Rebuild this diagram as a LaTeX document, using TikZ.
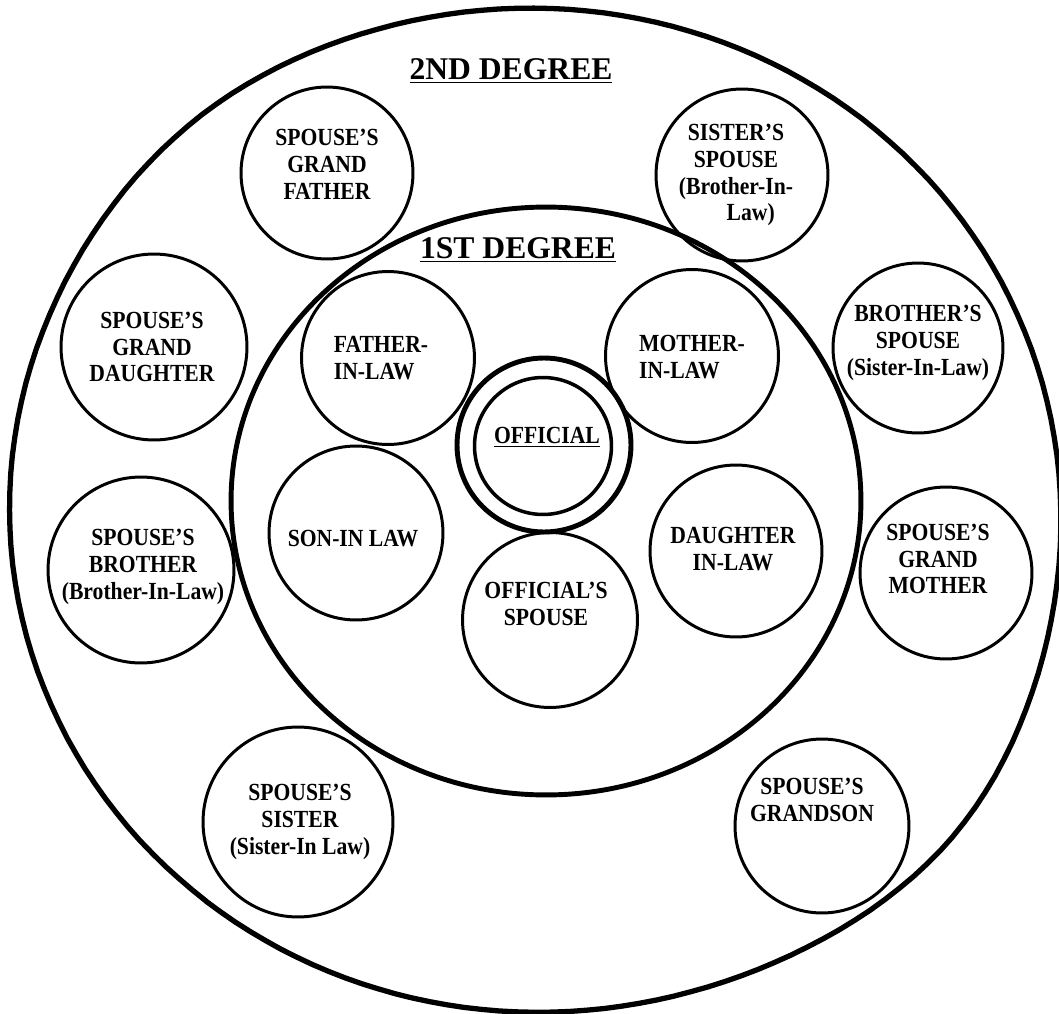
\documentclass[tikz,border=0pt]{standalone}
\usepackage{fontspec}
\setmainfont{Liberation Serif}
\newfontfamily\lblfont{Liberation Serif}[FakeStretch=0.88]
\usetikzlibrary{shapes.geometric}
\begin{document}
\begin{tikzpicture}[x=0.02cm,y=-0.02cm,
  declare function={
    ue(\t)=((\t-38)/32)*((\t-38)/32);
    uw(\t)=((\t+130)/30)*((\t+130)/30);
    rr(\t)=100/sqrt((cos(\t)/5.24)^2+(sin(\t)/5.01)^2)+16/(1+ue(\t))/(1+ue(\t))+6/(1+uw(\t))/(1+uw(\t));
  },
  ring/.style={circle,draw,line width=1.7pt,inner sep=0pt,minimum size=#1},
  bigring/.style={ellipse,draw,inner sep=0pt},
  lbl/.style={align=center,inner sep=0pt,font={\lblfont\bfseries\fontsize{14}{15.3}\selectfont}},
  lbll/.style={align=left,inner sep=0pt,font={\lblfont\bfseries\fontsize{14}{15.3}\selectfont}},
  title/.style={inner sep=0pt,font={\bfseries\fontsize{18}{20}\selectfont}}]
\useasboundingbox (0,0) rectangle (1059,1014);
% outer (2nd degree) ring, slightly irregular as drawn
\coordinate (oc) at (534,510);
\draw[line width=3pt,line join=round] plot[domain=-230:130,samples=181]
  ({534+rr(\x)*cos(\x)},{510+rr(\x)*sin(\x)}) -- cycle;
% inner (1st degree) ring
\node[bigring,line width=2.8pt,minimum width=12.6cm,minimum height=11.76cm] (inner) at (546,501) {};
\node[title] (t2) at (511,71) {\underline{2ND DEGREE}};
\node[title] (t1) at (518,250) {\underline{1ST DEGREE}};
% second degree
\node[ring=3.44cm] (gf) at (327,173) {};
\node[lbl] (gft) at (327,164) {SPOUSE’S\\GRAND\\FATHER};
\node[ring=3.44cm] (ss) at (742,175) {};
\node[lbl] (sst) at (736,175) {SISTER’S\\SPOUSE\\(Brother-In-\\\hspace*{1.2em}Law)};
\node[ring=3.72cm] (gd) at (154,347) {};
\node[lbl] (gdt) at (152,347) {SPOUSE’S\\GRAND\\DAUGHTER};
\node[ring=3.40cm] (bs) at (918,348) {};
\node[lbl] (bst) at (918,343) {BROTHER’S\\SPOUSE\\(Sister-In-Law)};
\node[ring=3.72cm] (sb) at (141,570) {};
\node[lbl] (sbt) at (143,567) {SPOUSE’S\\BROTHER\\(Brother-In-Law)};
\node[ring=3.44cm] (gm) at (946,573) {};
\node[lbl] (gmt) at (938,559) {SPOUSE’S\\GRAND\\MOTHER};
\node[ring=3.80cm] (sis) at (298,822) {};
\node[lbl] (sist) at (300,822) {SPOUSE’S\\SISTER\\(Sister-In Law)};
\node[ring=3.48cm] (gs) at (822,826) {};
\node[lbl] (gst) at (812,800) {SPOUSE’S\\GRANDSON};
% first degree
\node[ring=3.46cm] (fil) at (388,358) {};
\node[lbll] (filt) at (381,358) {FATHER-\\IN-LAW};
\node[ring=3.46cm] (mil) at (692,356) {};
\node[lbll] (milt) at (692,357) {MOTHER-\\IN-LAW};
\node[ring=3.48cm] (son) at (356,533) {};
\node[lbl] (sont) at (353,539) {SON-IN LAW};
\node[ring=3.44cm] (dil) at (736,551) {};
\node[lbl] (dilt) at (733,549) {DAUGHTER\\IN-LAW};
\node[ring=3.50cm] (osp) at (550,620) {};
\node[lbl] (ospt) at (546,604) {OFFICIAL’S\\SPOUSE};
% official
\node[ring=3.48cm,line width=2.8pt] (off) at (544,445) {};
\node[ring=2.74cm,line width=2pt] (offin) at (543,446) {};
\node[lbl] (offt) at (547,437) {\underline{OFFICIAL}};
\end{tikzpicture}
\end{document}
